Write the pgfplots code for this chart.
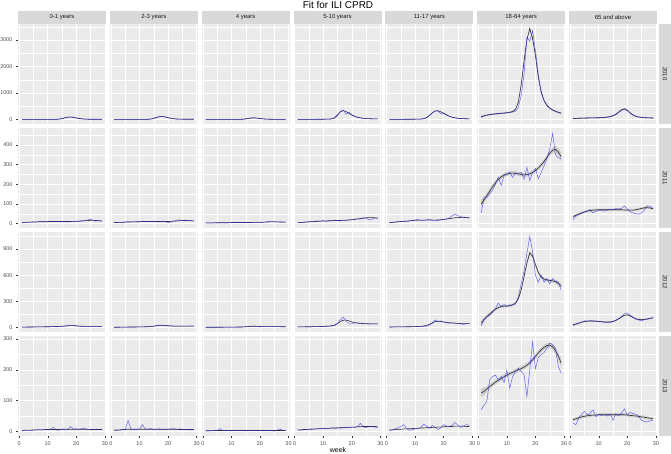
\documentclass[border=0pt]{standalone}
\usepackage{fontspec}
\setmainfont{Liberation Sans}
\usepackage{pgfplots}
\pgfplotsset{compat=1.18}
\usepackage{pgfplotstable}
\definecolor{ggbg}{HTML}{EBEBEB}
\definecolor{ggstrip}{HTML}{D9D9D9}
\definecolor{ggtick}{HTML}{4D4D4D}
\definecolor{ggtickmark}{HTML}{333333}
\definecolor{rawblue}{HTML}{3030EE}

\newcommand\rd[2]{\pgfplotstableread[header=false,row sep=\\]{#1}#2}
% ---------- 2010 ----------
\rd{5\\5\\5\\5\\5\\5\\5\\5\\5\\5\\5\\5\\5\\10\\30\\60\\85\\95\\80\\55\\35\\20\\12\\8\\8\\8\\8\\8\\8\\}\rawAa
\rd{5\\5\\5\\5\\5\\5\\5\\5\\5\\5\\5\\5\\7\\15\\35\\62\\85\\92\\80\\58\\38\\24\\15\\10\\8\\8\\8\\8\\8\\}\smAa
\rd{5\\5\\5\\5\\5\\5\\5\\5\\5\\5\\5\\5\\5\\15\\40\\80\\110\\115\\95\\65\\40\\25\\15\\10\\10\\10\\10\\10\\10\\}\rawAb
\rd{5\\5\\5\\5\\5\\5\\5\\5\\5\\5\\5\\5\\8\\18\\42\\78\\105\\112\\96\\68\\44\\28\\18\\12\\10\\10\\10\\10\\10\\}\smAb
\rd{3\\3\\3\\3\\3\\3\\3\\3\\3\\3\\3\\3\\3\\8\\20\\40\\55\\60\\50\\35\\22\\14\\10\\6\\6\\6\\6\\6\\6\\}\rawAc
\rd{3\\3\\3\\3\\3\\3\\3\\3\\3\\3\\3\\3\\5\\10\\22\\40\\54\\58\\50\\36\\24\\15\\10\\7\\6\\6\\6\\6\\6\\}\smAc
\rd{5\\5\\5\\5\\5\\6\\6\\7\\8\\8\\10\\12\\20\\50\\150\\300\\360\\200\\270\\180\\120\\80\\60\\45\\35\\30\\25\\20\\20\\}\rawAd
\rd{5\\5\\5\\5\\5\\6\\6\\7\\8\\9\\11\\14\\25\\70\\170\\290\\335\\300\\230\\170\\120\\85\\60\\45\\35\\30\\25\\22\\20\\}\smAd
\rd{5\\5\\5\\5\\6\\6\\7\\8\\9\\10\\12\\15\\25\\60\\140\\240\\320\\310\\220\\250\\180\\120\\80\\60\\45\\35\\30\\25\\22\\}\rawAe
\rd{5\\5\\5\\5\\6\\6\\7\\8\\9\\10\\12\\16\\30\\70\\150\\250\\320\\330\\290\\230\\170\\120\\85\\62\\47\\37\\30\\26\\23\\}\smAe
\rd{80\\130\\160\\180\\195\\210\\220\\230\\240\\250\\265\\280\\310\\450\\900\\1700\\3100\\2950\\3350\\2600\\1700\\1000\\700\\520\\420\\350\\300\\260\\230\\}\rawAf
\rd{110 30\\140 30\\165 30\\185 30\\200 30\\212 30\\222 30\\232 30\\242 30\\255 30\\270 30\\300 30\\380 30\\650 40\\1300 50\\2200 60\\3000 60\\3430 60\\3050 60\\2400 60\\1600 50\\1050 40\\720 30\\540 30\\430 30\\360 30\\310 30\\270 30\\240 30\\}\smAf
\rd{30\\40\\45\\50\\55\\55\\60\\60\\62\\65\\70\\75\\85\\100\\130\\180\\260\\340\\380\\330\\230\\160\\120\\95\\80\\70\\65\\60\\55\\}\rawAg
\rd{35 20\\40 20\\45 20\\50 20\\53 20\\56 20\\58 20\\60 20\\62 20\\65 20\\70 20\\78 20\\90 20\\110 20\\145 20\\200 20\\280 20\\370 20\\405 20\\350 20\\250 20\\170 20\\120 20\\92 20\\78 20\\68 20\\62 20\\58 20\\55 20\\}\smAg
% ---------- 2011 ----------
\rd{5\\6\\5\\7\\8\\6\\9\\10\\8\\9\\10\\12\\9\\11\\10\\9\\8\\10\\11\\12\\10\\14\\16\\18\\22\\15\\12\\16\\10\\}\rawBa
\rd{6\\6\\7\\7\\8\\8\\9\\9\\9\\10\\10\\10\\10\\10\\10\\10\\10\\10\\11\\11\\12\\13\\14\\15\\16\\16\\15\\14\\13\\}\smBa
\rd{4\\5\\6\\3\\8\\10\\7\\9\\8\\10\\12\\9\\11\\10\\12\\9\\8\\11\\10\\4\\8\\12\\16\\18\\15\\17\\14\\16\\12\\}\rawBb
\rd{5\\5\\6\\6\\7\\7\\8\\8\\9\\9\\10\\10\\10\\10\\10\\10\\10\\10\\10\\10\\11\\12\\13\\14\\15\\15\\15\\14\\13\\}\smBb
\rd{2\\3\\2\\4\\3\\4\\5\\3\\4\\5\\4\\6\\5\\4\\6\\5\\4\\6\\7\\5\\6\\8\\10\\12\\9\\8\\7\\9\\6\\}\rawBc
\rd{3\\3\\3\\3\\4\\4\\4\\4\\4\\5\\5\\5\\5\\5\\5\\5\\5\\6\\6\\6\\7\\7\\8\\8\\8\\8\\8\\7\\7\\}\smBc
\rd{3\\5\\6\\8\\9\\10\\12\\13\\12\\15\\10\\13\\16\\18\\15\\14\\17\\16\\18\\20\\22\\24\\22\\30\\25\\20\\22\\28\\25\\}\rawBd
\rd{4\\5\\6\\7\\8\\9\\10\\11\\12\\13\\13\\14\\14\\15\\15\\15\\16\\17\\18\\19\\21\\23\\25\\27\\29\\30\\30\\29\\28\\}\smBd
\rd{3\\5\\7\\8\\10\\12\\11\\14\\15\\18\\20\\16\\15\\19\\22\\17\\16\\15\\18\\20\\22\\28\\40\\48\\40\\35\\32\\30\\28\\}\rawBe
\rd{4\\6\\7\\9\\10\\11\\12\\13\\15\\16\\17\\17\\17\\17\\17\\17\\17\\18\\19\\21\\23\\25\\27\\29\\30\\31\\31\\30\\29\\}\smBe
\rd{54\\130\\135\\150\\170\\200\\236\\194\\245\\250\\261\\235\\258\\255\\262\\225\\287\\219\\260\\280\\228\\260\\295\\330\\380\\459\\350\\335\\330\\}\rawBf
\rd{100 22\\120 18\\142 15\\165 13\\188 12\\208 11\\225 10\\238 10\\247 10\\253 10\\256 10\\257 10\\256 10\\253 10\\250 10\\248 10\\249 10\\253 10\\260 10\\270 10\\283 10\\298 11\\316 12\\337 13\\358 14\\373 15\\378 17\\365 19\\340 22\\}\smBf
\rd{20\\37\\45\\52\\58\\65\\71\\54\\62\\68\\66\\63\\68\\72\\70\\76\\74\\78\\89\\75\\60\\54\\50\\47\\55\\68\\91\\88\\76\\}\rawBg
\rd{35 6\\42 6\\48 6\\54 6\\59 6\\63 6\\66 6\\68 6\\69 6\\70 6\\70 6\\70 6\\70 6\\70 6\\70 6\\70 6\\70 6\\70 6\\69 6\\68 6\\68 6\\68 6\\70 6\\73 6\\77 6\\80 6\\81 6\\79 6\\75 6\\}\smBg
% ---------- 2012 ----------
\rd{3\\4\\5\\4\\6\\5\\7\\6\\8\\7\\9\\10\\8\\10\\12\\15\\20\\25\\22\\18\\15\\12\\14\\10\\12\\15\\13\\11\\12\\}\rawCa
\rd{4\\4\\5\\5\\6\\6\\7\\7\\8\\8\\9\\10\\11\\12\\14\\17\\20\\22\\21\\19\\16\\14\\13\\12\\12\\12\\12\\12\\12\\}\smCa
\rd{2\\3\\3\\4\\3\\5\\4\\5\\6\\5\\7\\8\\7\\10\\15\\22\\28\\25\\20\\18\\16\\15\\14\\17\\16\\15\\14\\18\\16\\}\rawCb
\rd{3\\3\\3\\4\\4\\5\\5\\5\\6\\6\\7\\8\\9\\11\\15\\20\\24\\25\\23\\20\\18\\16\\15\\15\\15\\15\\15\\15\\15\\}\smCb
\rd{2\\2\\3\\2\\3\\3\\4\\3\\4\\4\\5\\4\\5\\6\\8\\12\\15\\14\\12\\10\\8\\9\\10\\8\\9\\12\\9\\8\\7\\}\rawCc
\rd{2\\2\\2\\3\\3\\3\\3\\4\\4\\4\\4\\5\\5\\6\\8\\11\\13\\14\\13\\11\\10\\9\\9\\9\\9\\9\\9\\8\\8\\}\smCc
\rd{5\\6\\7\\7\\8\\8\\9\\10\\10\\11\\12\\14\\16\\22\\45\\90\\118\\75\\42\\40\\55\\52\\50\\45\\42\\40\\42\\40\\41\\}\rawCd
\rd{6\\7\\7\\8\\8\\9\\10\\10\\11\\12\\14\\16\\20\\28\\45\\68\\83\\85\\76\\64\\55\\50\\47\\45\\43\\42\\41\\41\\41\\}\smCd
\rd{5\\5\\6\\6\\7\\7\\7\\8\\8\\9\\9\\10\\12\\16\\25\\45\\88\\65\\76\\60\\55\\48\\55\\50\\45\\42\\35\\45\\48\\}\rawCe
\rd{5\\6\\6\\6\\7\\7\\8\\8\\9\\10\\11\\13\\17\\24\\36\\52\\66\\72\\70\\64\\58\\54\\51\\49\\47\\45\\44\\44\\45\\}\smCe
\rd{20\\90\\120\\140\\170\\220\\280\\240\\262\\238\\255\\260\\270\\350\\500\\650\\850\\1043\\870\\600\\520\\600\\520\\560\\500\\560\\530\\520\\430\\}\rawCf
\rd{50 30\\90 25\\125 20\\155 18\\185 16\\210 15\\228 15\\240 15\\245 15\\247 15\\250 15\\258 15\\280 16\\330 18\\430 20\\580 22\\740 24\\855 25\\820 24\\720 22\\630 20\\580 18\\555 17\\545 17\\540 17\\535 18\\525 20\\505 24\\475 30\\}\smCf
\rd{20\\35\\45\\60\\77\\72\\80\\70\\75\\68\\65\\60\\55\\57\\65\\80\\100\\130\\160\\167\\140\\116\\95\\85\\77\\90\\93\\105\\116\\}\rawCg
\rd{30 8\\40 8\\50 8\\60 8\\67 8\\72 8\\74 8\\74 8\\72 8\\69 8\\66 8\\63 8\\62 8\\64 8\\70 8\\82 8\\100 8\\122 8\\140 8\\145 8\\133 8\\115 8\\100 8\\92 8\\90 8\\93 8\\98 8\\104 8\\110 8\\}\smCg
% ---------- 2013 ----------
\rd{3\\3\\4\\2\\4\\5\\6\\5\\6\\5\\6\\14\\5\\4\\8\\5\\6\\16\\7\\9\\5\\10\\9\\6\\5\\6\\7\\6\\5\\}\rawDa
\rd{3\\4\\4\\4\\5\\5\\5\\5\\6\\6\\6\\6\\6\\6\\7\\7\\7\\7\\7\\7\\7\\7\\7\\7\\6\\6\\6\\6\\6\\}\smDa
\rd{2\\3\\4\\5\\6\\35\\8\\6\\7\\8\\22\\7\\8\\9\\6\\7\\8\\5\\6\\7\\8\\9\\6\\8\\7\\6\\7\\5\\6\\}\rawDb
\rd{4\\5\\5\\6\\6\\7\\7\\7\\7\\7\\7\\7\\7\\7\\7\\7\\7\\7\\7\\7\\7\\7\\7\\6\\6\\6\\6\\6\\6\\}\smDb
\rd{1\\2\\3\\2\\3\\9\\2\\3\\3\\2\\3\\3\\4\\3\\2\\4\\3\\3\\2\\3\\4\\3\\2\\3\\1\\4\\8\\3\\2\\}\rawDc
\rd{2\\2\\2\\3\\3\\3\\3\\3\\3\\3\\3\\3\\3\\3\\3\\3\\3\\3\\3\\3\\3\\3\\3\\3\\3\\3\\3\\3\\3\\}\smDc
\rd{5\\4\\5\\6\\7\\8\\7\\9\\8\\10\\9\\10\\11\\10\\12\\11\\12\\13\\12\\14\\13\\16\\26\\14\\13\\15\\17\\14\\13\\}\rawDd
\rd{5\\5\\6\\6\\7\\7\\8\\8\\9\\9\\10\\10\\11\\11\\11\\12\\12\\13\\13\\14\\14\\15\\15\\16\\16\\16\\16\\16\\15\\}\smDd
\rd{3\\5\\8\\12\\16\\22\\10\\3\\6\\8\\10\\12\\24\\18\\10\\19\\14\\6\\12\\22\\18\\15\\20\\29\\20\\13\\18\\22\\20\\}\rawDe
\rd{4\\5\\6\\7\\7\\8\\8\\9\\9\\10\\10\\11\\11\\12\\12\\13\\13\\14\\14\\15\\15\\16\\16\\17\\17\\17\\17\\16\\16\\}\smDe
\rd{70\\85\\98\\168\\178\\183\\167\\178\\159\\200\\140\\178\\195\\205\\195\\185\\113\\200\\291\\204\\240\\250\\256\\270\\287\\282\\270\\211\\189\\}\rawDf
\rd{125 14\\130 12\\138 10\\146 9\\153 8\\160 8\\166 7\\172 7\\178 7\\183 7\\188 7\\192 7\\196 7\\200 7\\204 7\\209 7\\215 7\\223 7\\233 8\\244 8\\255 8\\265 8\\273 8\\279 8\\280 9\\275 9\\263 10\\245 12\\222 14\\}\smDf
\rd{27\\22\\43\\55\\65\\54\\60\\70\\48\\55\\52\\54\\50\\56\\36\\57\\50\\60\\73\\54\\62\\58\\56\\48\\36\\32\\31\\35\\36\\}\rawDg
\rd{38 5\\41 5\\44 5\\47 5\\49 5\\51 5\\52 5\\53 5\\53 5\\54 5\\54 5\\54 5\\54 5\\54 5\\54 5\\54 5\\54 5\\54 5\\54 5\\53 5\\52 5\\51 5\\50 5\\49 5\\47 5\\46 5\\44 5\\43 5\\42 5\\}\smDg

\pgfplotsset{
  gg/.style={scale only axis, width=88bp, height=100bp, anchor=north west,
    xmin=-0.4, xmax=30.4, xtick={0,10,20,30}, minor xtick={5,15,25},
    grid=both, major grid style={white, line width=0.55bp},
    minor grid style={white, line width=0.28bp},
    axis background/.style={fill=ggbg},
    axis line style={draw=none},
    tick align=outside, tick pos=left,
    major tick length=2bp, minor tick length=0pt,
    tick style={ggtickmark, line width=0.4bp},
    xtick style={draw=none}, ytick style={draw=none},
    xticklabels={}, yticklabels={},
    ticklabel style={font=\fontsize{5.5}{6}\selectfont, text=ggtick},
    /pgf/number format/assume math mode=true,
    /pgf/number format/set thousands separator={},
    clip=true},
  rowA/.style={ymin=-171, ymax=3600, ytick={0,1000,2000,3000}, minor ytick={500,1500,2500,3500}},
  rowB/.style={ymin=-23, ymax=487, ytick={0,100,200,300,400}, minor ytick={50,150,250,350,450}},
  rowC/.style={ymin=-52, ymax=1095, ytick={0,300,600,900}, minor ytick={150,450,750,1050}},
  rowD/.style={ymin=-15, ymax=310, ytick={0,100,200,300}, minor ytick={50,150,250}},
  L/.style={ytick style={draw=ggtickmark}, yticklabel={\pgfmathprintnumber{\tick}}},
  B/.style={xtick style={draw=ggtickmark}, xticklabel={\pgfmathprintnumber{\tick}}},
  rawline/.style={color=rawblue, line width=0.5bp, opacity=0.72, mark=none},
  smline/.style={color=black!82, line width=0.6bp, mark=none},
  bandfill/.style={fill=gray!70, fill opacity=0.45, draw=none},
}

\newcommand\panel[6]{%
  \begin{axis}[gg,#5,at={(#1bp,-#2bp)},#6]
    \addplot[smline] table[x expr=\coordindex+1,y index=0]{#4};
    \addplot[rawline] table[x expr=\coordindex+1,y index=0]{#3};
  \end{axis}}
\newcommand\panelb[6]{%
  \begin{axis}[gg,#5,at={(#1bp,-#2bp)},#6]
    \addplot[draw=none, stack plots=y] table[x expr=\coordindex+1,y expr=\thisrowno{0}-\thisrowno{1}]{#4};
    \addplot[bandfill, stack plots=y] table[x expr=\coordindex+1,y expr=2*\thisrowno{1}]{#4} \closedcycle;
    \addplot[smline, stack plots=false] table[x expr=\coordindex+1,y index=0]{#4};
    \addplot[rawline, stack plots=false] table[x expr=\coordindex+1,y index=0]{#3};
  \end{axis}}

\begin{document}
\begin{tikzpicture}
\path[use as bounding box] (0,0) rectangle (671bp,-454bp);
% row 2010
\panel{18}{24}{\rawAa}{\smAa}{rowA}{L}
\panel{109.83}{24}{\rawAb}{\smAb}{rowA}{}
\panel{201.67}{24}{\rawAc}{\smAc}{rowA}{}
\panel{293.5}{24}{\rawAd}{\smAd}{rowA}{}
\panel{385.33}{24}{\rawAe}{\smAe}{rowA}{}
\panelb{477.17}{24}{\rawAf}{\smAf}{rowA}{}
\panelb{569}{24}{\rawAg}{\smAg}{rowA}{}
% row 2011
\panel{18}{128}{\rawBa}{\smBa}{rowB}{L}
\panel{109.83}{128}{\rawBb}{\smBb}{rowB}{}
\panel{201.67}{128}{\rawBc}{\smBc}{rowB}{}
\panel{293.5}{128}{\rawBd}{\smBd}{rowB}{}
\panel{385.33}{128}{\rawBe}{\smBe}{rowB}{}
\panelb{477.17}{128}{\rawBf}{\smBf}{rowB}{}
\panelb{569}{128}{\rawBg}{\smBg}{rowB}{}
% row 2012
\panel{18}{232}{\rawCa}{\smCa}{rowC}{L}
\panel{109.83}{232}{\rawCb}{\smCb}{rowC}{}
\panel{201.67}{232}{\rawCc}{\smCc}{rowC}{}
\panel{293.5}{232}{\rawCd}{\smCd}{rowC}{}
\panel{385.33}{232}{\rawCe}{\smCe}{rowC}{}
\panelb{477.17}{232}{\rawCf}{\smCf}{rowC}{}
\panelb{569}{232}{\rawCg}{\smCg}{rowC}{}
% row 2013
\panel{18}{336}{\rawDa}{\smDa}{rowD}{L,B}
\panel{109.83}{336}{\rawDb}{\smDb}{rowD}{B}
\panel{201.67}{336}{\rawDc}{\smDc}{rowD}{B}
\panel{293.5}{336}{\rawDd}{\smDd}{rowD}{B}
\panel{385.33}{336}{\rawDe}{\smDe}{rowD}{B}
\panelb{477.17}{336}{\rawDf}{\smDf}{rowD}{B}
\panelb{569}{336}{\rawDg}{\smDg}{rowD}{B}
% strips
\foreach \x/\lab in {18/0-1 years, 109.83/2-3 years, 201.67/4 years, 293.5/5-10 years, 385.33/11-17 years, 477.17/18-64 years, 569/65 and above}{
  \fill[ggstrip] (\x bp,-11bp) rectangle ++(88bp,-13bp);
  \node[font=\fontsize{6}{7}\selectfont, text=black!90, inner sep=0pt] at ([xshift=44bp]\x bp,-17.5bp) {\lab};
}
\foreach \y/\lab in {24/2010, 128/2011, 232/2012, 336/2013}{
  \fill[ggstrip] (659bp,-\y bp) rectangle ++(12bp,-100bp);
  \node[font=\fontsize{6}{7}\selectfont, text=black!90, inner sep=0pt, rotate=-90] at ([yshift=-50bp]665bp,-\y bp) {\lab};
}
\node[font=\fontsize{10}{11}\selectfont, inner sep=0pt, anchor=base] at (338bp,-8bp) {Fit for ILI CPRD};
\node[font=\fontsize{7}{8}\selectfont, inner sep=0pt, anchor=base] at (338bp,-452bp) {week};
\end{tikzpicture}
\end{document}
